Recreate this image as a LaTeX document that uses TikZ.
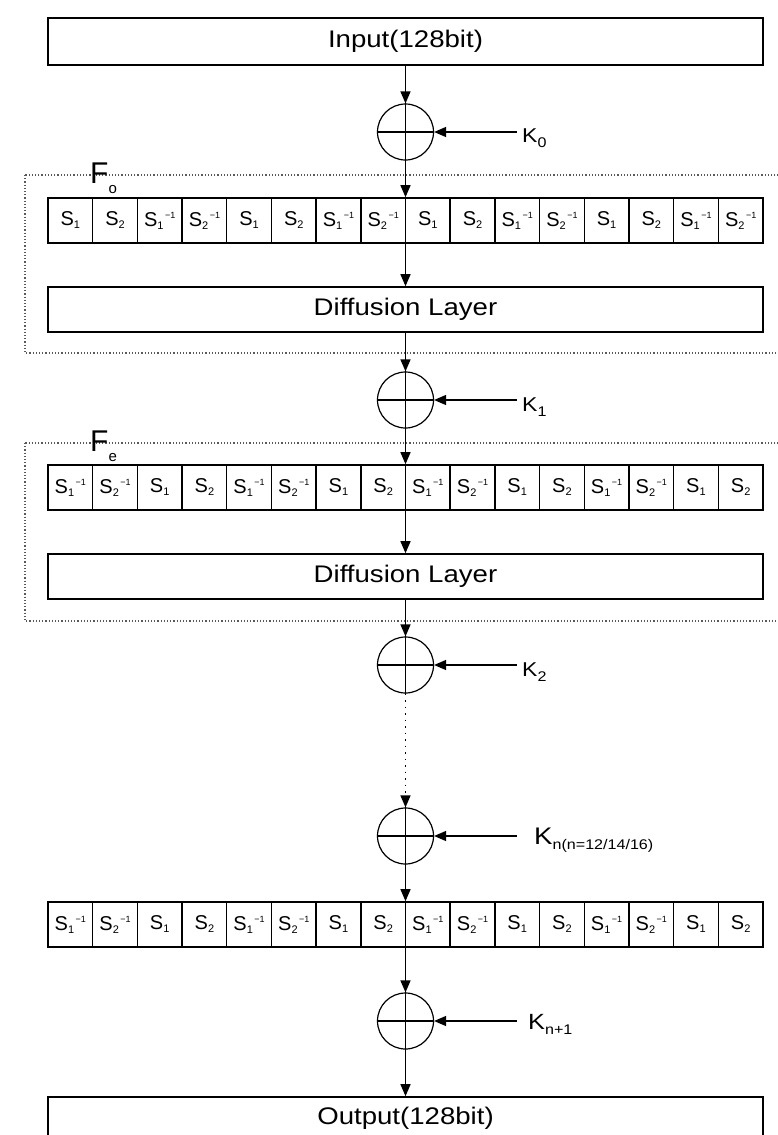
\documentclass[tikz,border=0pt]{standalone}
\usepackage{fontspec}
\setmainfont{Liberation Sans}[FakeStretch=1.15]
\newfontfamily\sfnt{Liberation Sans}
\usetikzlibrary{arrows.meta}
\newcommand\sxa[1]{{\sfnt\fontsize{20}{20}\selectfont S\raisebox{-3pt}{\fontsize{11}{11}\selectfont#1}}}
\newcommand\sxi[1]{\sxa{#1}\raisebox{8pt}{\sfnt\fontsize{9}{9}\selectfont\,−1}}
\newcommand\ksub[1]{\raisebox{-5pt}{\fontsize{14}{14}\selectfont #1}}
\tikzset{
 blk/.style={draw, line width=1.6pt, minimum width=715pt, minimum height=45pt, inner sep=0pt, font=\fontsize{24}{26}\selectfont},
 cell/.style={draw, line width=1.4pt, minimum width=44.6875pt, minimum height=45pt, inner sep=0pt},
 xorc/.style={draw, circle, line width=1.2pt, minimum size=56pt, inner sep=0pt},
 arr/.style={line width=1.3pt, -{Triangle[length=12pt,width=10pt]}},
 dotarr/.style={arr, dash pattern=on 1.5pt off 5pt},
 frame/.style={dotted, line width=1.2pt, black!65},
 klab/.style={anchor=base west, inner sep=0pt, font=\fontsize{20}{20}\selectfont},
 flab/.style={anchor=base west, inner sep=0pt, font=\sfnt\fontsize{30}{30}\selectfont},
 cross/.style={line width=1.2pt},
}
\begin{document}
\begin{tikzpicture}[x=1pt,y=-1pt]
\useasboundingbox (0,0) rectangle (778,1135);
\clip (0,0) rectangle (778,1135);
\fill[white] (0,0) rectangle (778,1135);
% round frames
\draw[frame] (25,175) rectangle (795,353);
\draw[frame] (25,443) rectangle (795,621);
\node[flab] (fo) at (90,183) {F\raisebox{-10pt}{\fontsize{15}{15}\selectfont o}};
\node[flab] (fe) at (90,451) {F\raisebox{-10pt}{\fontsize{15}{15}\selectfont e}};
% input
\node[blk, minimum height=47pt] (in) at (405.5,41.5) {Input(128bit)};
% xor K0
\node[xorc] (x0) at (405.5,132) {};
\draw[cross] (x0.north) -- (x0.south) (x0.west) -- (x0.east);
\coordinate (k0) at (517,132);
\draw[arr] (k0) -- (x0.east);
\node[klab] (lk0) at (522,142) {K\ksub{0}};
% row 1
\node[blk] (row1) at (405.5,220.5) {};
\foreach \t [count=\i] in {{\sxa{1}},{\sxa{2}},{\sxi{1}},{\sxi{2}},{\sxa{1}},{\sxa{2}},{\sxi{1}},{\sxi{2}},{\sxa{1}},{\sxa{2}},{\sxi{1}},{\sxi{2}},{\sxa{1}},{\sxa{2}},{\sxi{1}},{\sxi{2}}}
  \node[cell] (ra\i) at ({48+(\i-0.5)*44.6875},220.5) {\t};
\node[blk] (d1) at (405.5,309.5) {Diffusion Layer};
% xor K1
\node[xorc] (x1) at (405.5,400) {};
\draw[cross] (x1.north) -- (x1.south) (x1.west) -- (x1.east);
\coordinate (k1) at (517,400);
\draw[arr] (k1) -- (x1.east);
\node[klab] (lk1) at (522,411) {K\ksub{1}};
% row 2
\node[blk] (row2) at (405.5,487.5) {};
\foreach \t [count=\i] in {{\sxi{1}},{\sxi{2}},{\sxa{1}},{\sxa{2}},{\sxi{1}},{\sxi{2}},{\sxa{1}},{\sxa{2}},{\sxi{1}},{\sxi{2}},{\sxa{1}},{\sxa{2}},{\sxi{1}},{\sxi{2}},{\sxa{1}},{\sxa{2}}}
  \node[cell] (rb\i) at ({48+(\i-0.5)*44.6875},487.5) {\t};
\node[blk] (d2) at (405.5,576.5) {Diffusion Layer};
% xor K2
\node[xorc] (x2) at (405.5,665) {};
\draw[cross] (x2.north) -- (x2.south) (x2.west) -- (x2.east);
\coordinate (k2) at (517,665);
\draw[arr] (k2) -- (x2.east);
\node[klab] (lk2) at (522,676) {K\ksub{2}};
% xor Kn
\node[xorc] (xn) at (405.5,836) {};
\draw[cross] (xn.north) -- (xn.south) (xn.west) -- (xn.east);
\coordinate (kn) at (517,836);
\draw[arr] (kn) -- (xn.east);
\node[klab, font=\fontsize{24}{24}\selectfont] (lkn) at (534,844) {K\raisebox{-5pt}{\fontsize{14}{14}\selectfont n(n=12/14/16)}};
% row 3
\node[blk] (row3) at (405.5,924.5) {};
\foreach \t [count=\i] in {{\sxi{1}},{\sxi{2}},{\sxa{1}},{\sxa{2}},{\sxi{1}},{\sxi{2}},{\sxa{1}},{\sxa{2}},{\sxi{1}},{\sxi{2}},{\sxa{1}},{\sxa{2}},{\sxi{1}},{\sxi{2}},{\sxa{1}},{\sxa{2}}}
  \node[cell] (rc\i) at ({48+(\i-0.5)*44.6875},924.5) {\t};
% xor Kn+1
\node[xorc] (xm) at (405.5,1021) {};
\draw[cross] (xm.north) -- (xm.south) (xm.west) -- (xm.east);
\coordinate (km) at (517,1021);
\draw[arr] (km) -- (xm.east);
\node[klab, font=\fontsize{22}{22}\selectfont] (lkm) at (528,1029) {K\ksub{n+1}};
% output
\node[blk, minimum height=42pt] (out) at (405.5,1118) {Output(128bit)};
% flow
\draw[arr] (in) -- (x0);
\draw[arr] (x0) -- (row1);
\draw[arr] (row1) -- (d1);
\draw[arr] (d1) -- (x1);
\draw[arr] (x1) -- (row2);
\draw[arr] (row2) -- (d2);
\draw[arr] (d2) -- (x2);
\draw[dotarr] (x2) -- (xn);
\draw[arr] (xn) -- (row3);
\draw[arr] (row3) -- (xm);
\draw[arr] (xm) -- (out);
\end{tikzpicture}
\end{document}
